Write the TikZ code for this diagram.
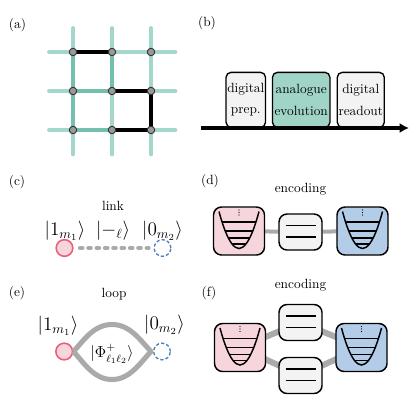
\documentclass[tikz,border=0pt]{standalone}
\usepackage{amsmath}
\usetikzlibrary{arrows.meta,backgrounds}
\definecolor{tealL}{HTML}{A3D7CB}
\definecolor{tealD}{HTML}{74BFAE}
\definecolor{pinkF}{HTML}{F6D5DC}
\definecolor{pinkB}{HTML}{E8607A}
\definecolor{blueF}{HTML}{B3CDE8}
\definecolor{blueB}{HTML}{4A7EBB}
\definecolor{grayF}{HTML}{F3F3F3}
\definecolor{linkG}{HTML}{AAAAAA}
\definecolor{siteF}{HTML}{999999}
\definecolor{analF}{HTML}{9FD4C6}
\newcommand\oscinner[1]{%
\begin{scope}[shift={(#1.center)}]
 \draw[line width=1.1pt] (-20,-19.5) parabola bend (0,17.5) (20,-19.5);
 \foreach \yy in {-9,0,7,13} \draw[line width=1.1pt] ({-20*sqrt((17.5-\yy)/37)},\yy) -- ({20*sqrt((17.5-\yy)/37)},\yy);
 \foreach \yy in {-21,-18.5,-16} \fill (0,\yy) circle (0.45pt);
\end{scope}}
\newcommand\twolevels[1]{%
\begin{scope}[shift={(#1.center)}]
 \draw[line width=1.1pt] (-15,-6.5) -- (15,-6.5) (-15,5) -- (15,5);
\end{scope}}
\begin{document}
\begin{tikzpicture}[x=0.75pt,y=-0.75pt,
  site/.style={circle,draw=black!80,fill=siteF,line width=0.7pt,inner sep=0pt,minimum size=5.6pt},
  gl/.style={tealL,line width=3.6pt,line cap=round},
  gd/.style={tealD,line width=3.6pt,line cap=round},
  gb/.style={black,line width=3.6pt,line cap=round,line join=round},
  panel/.style={font=\normalsize},
  stagebox/.style={draw,line width=1pt,rounded corners=3.75pt,fill=grayF,minimum width=29.6pt,minimum height=41.25pt,align=center,inner sep=0pt,anchor=south},
  ketlab/.style={font=\Large},
  pinkcirc/.style={circle,draw=pinkB,fill=pinkF,line width=1.2pt,minimum size=12.5pt,inner sep=0pt},
  bluecirc/.style={circle,draw=blueB,line width=1pt,dash pattern=on 2.4pt off 1.6pt,minimum size=12.5pt,inner sep=0pt},
  oscbox/.style={draw,line width=1.1pt,rounded corners=6pt,minimum width=38.25pt,minimum height=36pt,inner sep=0pt},
  midbox/.style={draw,line width=1.1pt,rounded corners=6pt,fill=grayF,minimum width=32.25pt,minimum height=27pt,inner sep=0pt},
  conn/.style={linkG,line width=3pt},
  connf/.style={linkG,line width=4.5pt},
  loopst/.style={linkG,line width=3.8pt,line join=round}
]
\useasboundingbox (0,0) rectangle (410,400);
% ---------- (a)
\node[panel] (la) at (17.5,25) {(a)};
\foreach \c/\x in {1/73,2/112,3/151}{
  \foreach \r/\y in {1/52,2/91,3/130}{
    \node[site] (s\c\r) at (\x,\y) {};
  }
  \coordinate (t\c) at (\x,28.5);
  \coordinate (b\c) at (\x,154);
}
\foreach \r/\y in {1/52,2/91,3/130}{
  \coordinate (l\r) at (49.5,\y);
  \coordinate (r\r) at (175,\y);
}
\begin{scope}[on background layer]
\foreach \c in {1,2,3}{ \draw[gl] (t\c) -- (b\c); }
\foreach \r in {1,2,3}{ \draw[gl] (l\r) -- (r\r); }
\draw[gd] (s11) -- (s12) -- (s13);
\draw[gd] (s12) -- (s22);
\draw[gd] (s13) -- (s23);
\draw[gd] (s21) -- (s22);
\draw[gb] (s11) -- (s21);
\draw[gb] (s22) -- (s32) -- (s33) -- (s23) -- cycle;
\end{scope}
% ---------- (b)
\node[panel] (lb) at (207,23) {(b)};
\node[stagebox] (prep) at (245.8,128) {digital\\[4pt]prep.};
\node[stagebox,fill=analF,minimum width=43.1pt] (evol) at (301.2,128) {analogue\\[4pt]evolution};
\node[stagebox,minimum width=35.25pt] (read) at (360.8,128) {digital\\[4pt]readout};
\coordinate (arS) at (201,128);
\coordinate (arE) at (409,128);
\draw[line width=2.6pt,-{Latex[length=7pt,width=7.5pt]}] (arS) -- (arE);
% ---------- (c)
\node[panel] (lc) at (17,182) {(c)};
\node (linklab) at (113,206) {link};
\node[ketlab] (k1) at (65,231) {$|1_{m_1}\rangle$};
\node[ketlab] (k2) at (113,231) {$|{-_\ell}\rangle$};
\node[ketlab] (k3) at (162.5,231) {$|0_{m_2}\rangle$};
\node[pinkcirc] (c1) at (64.5,248) {};
\node[bluecirc] (c2) at (162.5,248) {};
\draw[linkG,line width=3.7pt,line cap=round,dash pattern=on 1.3pt off 4.95pt,shorten <=5pt,shorten >=4pt] (c1) -- (c2);
% ---------- (d)
\node[panel] (ld) at (210,181) {(d)};
\node (encd) at (300.5,189) {encoding};
\node[oscbox,fill=pinkF] (d1) at (239,231) {};
\node[midbox] (d2) at (300.5,232) {};
\node[oscbox,fill=blueF] (d3) at (362.5,231) {};
\begin{scope}[on background layer]
\draw[conn] (d1) -- (d2);
\draw[conn] (d2) -- (d3);
\end{scope}
\oscinner{d1}
\oscinner{d3}
\twolevels{d2}
% ---------- (e)
\node[panel] (le) at (17,293) {(e)};
\node (looplab) at (114,294) {loop};
\node[ketlab] (e1) at (58,326) {$|1_{m_1}\rangle$};
\node[ketlab] (e2) at (164.5,325) {$|0_{m_2}\rangle$};
\node[pinkcirc] (ec1) at (64.2,351.5) {};
\node[bluecirc] (ec2) at (162,351.5) {};
\coordinate (eL) at (73.5,351.5);
\coordinate (eR) at (151,351.5);
\coordinate (eT) at (112,324.5);
\coordinate (eB) at (112,379.5);
\draw[loopst] (eL) .. controls (84,340) and (94,324.5) .. (eT) .. controls (130,324.5) and (140,340) .. (eR)
  .. controls (140,363) and (130,379.5) .. (eB) .. controls (94,379.5) and (84,363) .. (eL);
\node[font=\large] (phi) at (112,354) {$|\Phi^+_{\ell_1\ell_2}\rangle$};
% ---------- (f)
\node[panel] (lf) at (209,293) {(f)};
\node (encf) at (300.5,285) {encoding};
\node[oscbox,fill=pinkF] (f1) at (240,347.5) {};
\node[midbox] (f2) at (300.5,322.5) {};
\node[midbox] (f3) at (300.5,375.5) {};
\node[oscbox,fill=blueF] (f4) at (361.5,347.5) {};
\begin{scope}[on background layer]
\draw[connf] (f1.center) -- (f2.center);
\draw[connf] (f1.center) -- (f3.center);
\draw[connf] (f2.center) -- (f4.center);
\draw[connf] (f3.center) -- (f4.center);
\end{scope}
\oscinner{f1}
\oscinner{f4}
\twolevels{f2}
\twolevels{f3}
\end{tikzpicture}
\end{document}
